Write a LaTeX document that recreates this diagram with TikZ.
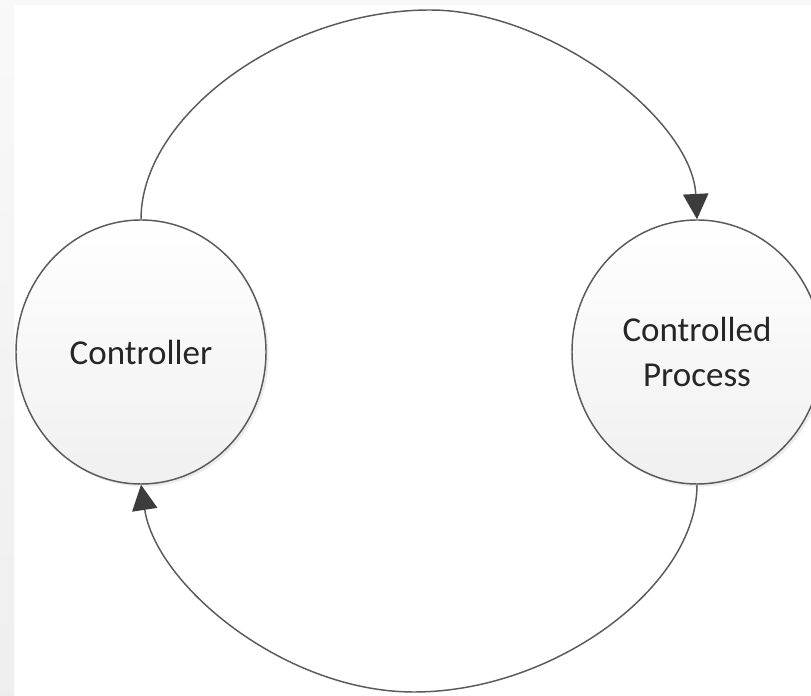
\documentclass[tikz,border=0pt]{standalone}
\usepackage{fontspec}
\setmainfont{Carlito}
\usetikzlibrary{shapes.geometric,arrows.meta,shadows}
\definecolor{edgegray}{HTML}{5A5A5A}
\definecolor{tipgray}{HTML}{3C3C3C}
\definecolor{labelgray}{HTML}{262626}

\begin{document}
\begin{tikzpicture}[x=0.75pt,y=0.75pt,
		block/.style={ellipse, draw=edgegray, line width=1.1pt, top color=white, bottom color=gray!12,
			minimum width=187.5pt, minimum height=198pt, inner sep=0pt, text=labelgray, align=center,
			font=\fontsize{26.25}{33.75}\selectfont,
			drop shadow={shadow xshift=2pt, shadow yshift=-2pt, opacity=0.15}},
		feedback/.style={draw=edgegray, line width=1.1pt, -{Triangle[length=19pt,width=19pt,color=tipgray,fill=tipgray]}}]
			\useasboundingbox (0,0) rectangle (811,696);
			\fill[white] (0,0) rectangle (811,696);
			\fill[gray!5] (0,691) rectangle (811,696);
			\shade[top color=gray!5, bottom color=gray!13] (0,0) rectangle (14,696);
			\node[block] (ctrl) at (141,344) {Controller};
			\node[block] (proc) at (697,344) {Controlled\\Process};
			\coordinate (top) at (430,686);
			\coordinate (bottom) at (414,4);
			% control action and feedback
			\draw[feedback] (ctrl.north) .. controls +(0,104) and +(-145,0) .. (top)
				.. controls +(120,0) and +(-5,100) .. (proc.north);
			\draw[feedback] (proc.south) .. controls +(0,-102) and +(140,0) .. (bottom)
				.. controls +(-130,0) and +(15,-100) .. (ctrl.south);
		\end{tikzpicture}
\end{document}
